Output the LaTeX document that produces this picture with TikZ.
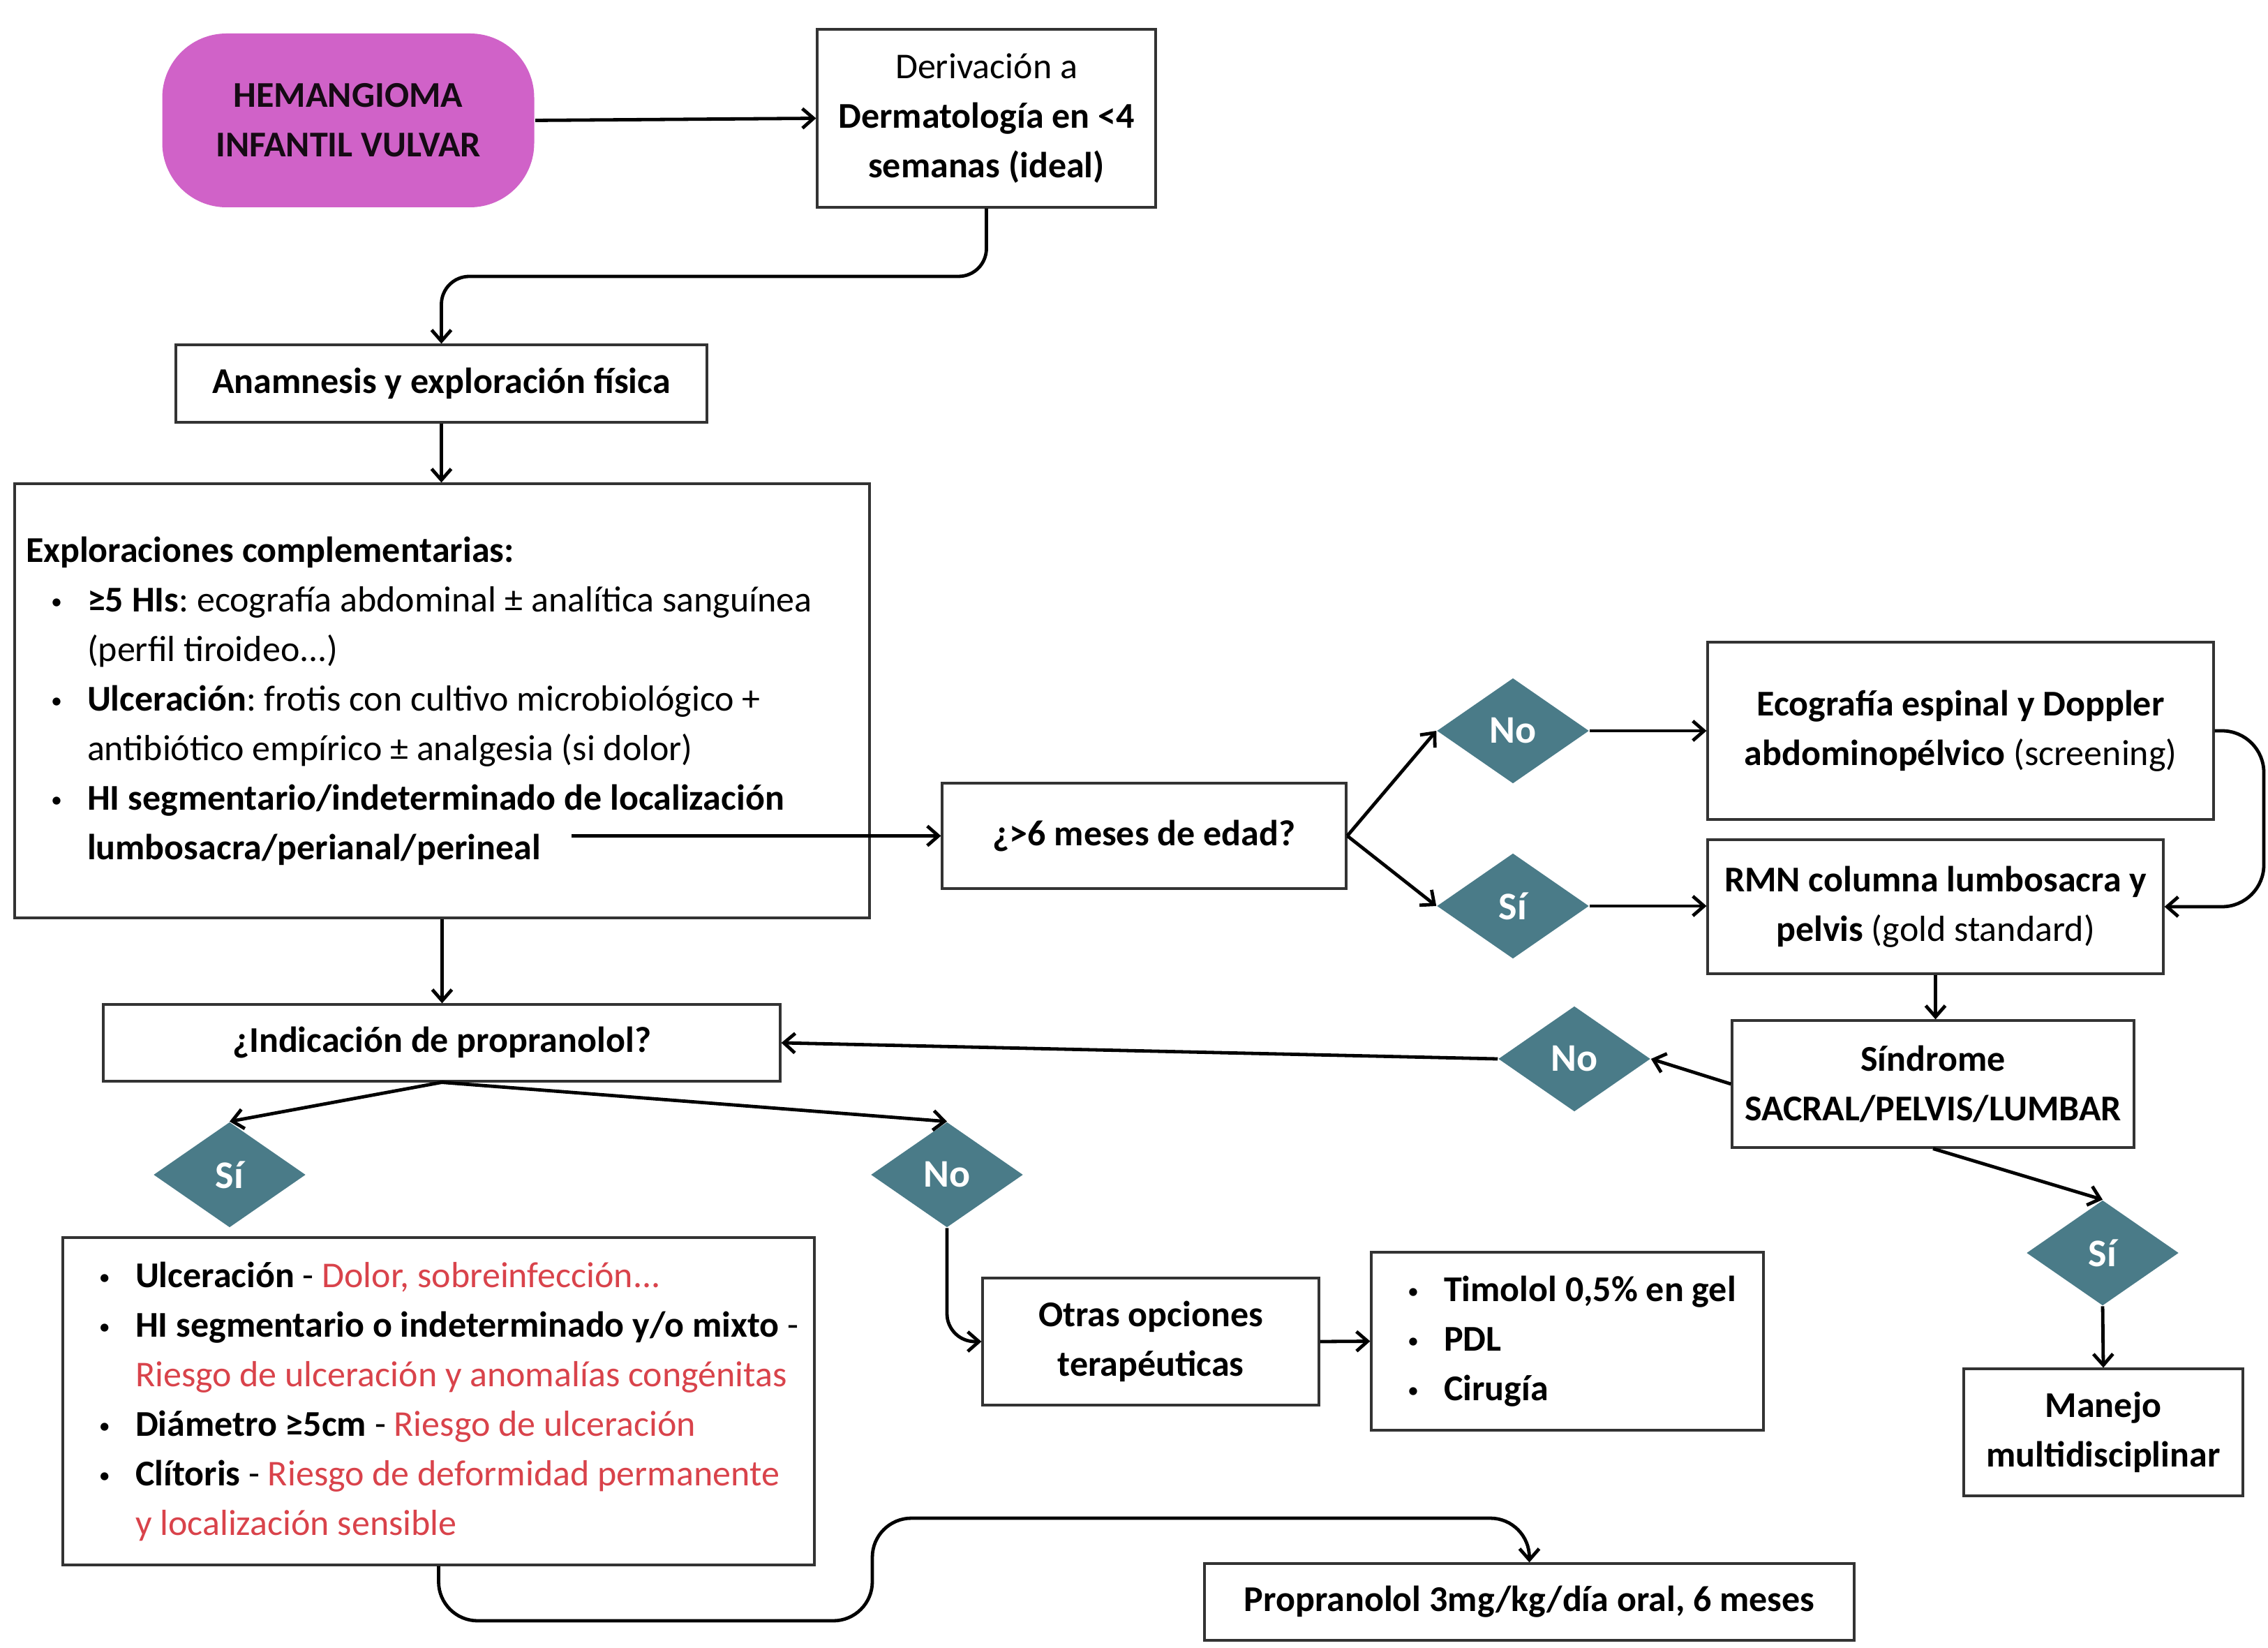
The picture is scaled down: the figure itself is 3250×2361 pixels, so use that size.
\documentclass[tikz,border=0pt]{standalone}
\usepackage{fontspec}
\setmainfont{Carlito}
\usetikzlibrary{arrows.meta,shapes.geometric}
\definecolor{teal1}{HTML}{4A7B88}
\definecolor{mag1}{HTML}{D062C8}
\definecolor{red1}{HTML}{D9434B}
\frenchspacing
\newcommand{\smb}{\raisebox{0.9pt}{\fontsize{8pt}{8pt}\selectfont\mdseries •}}
\newcommand{\bul}{\hspace*{9pt}\makebox[13pt][l]{\smb}}
\newcommand{\cnt}{\hspace*{22pt}}
\newcommand{\rt}[1]{\textcolor{red1}{#1}}
\newcommand{\tline}[1]{\mbox{#1}}
\begin{document}
\begin{tikzpicture}[x=0.25pt,y=-0.25pt,
 box/.style={draw=black!80, line width=0.8pt, rectangle, inner sep=0pt, align=center, font=\fontsize{13pt}{17.75pt}\selectfont\bfseries},
 lbox/.style={draw=black!80, line width=0.8pt, rectangle, inner xsep=4pt, inner ysep=0pt, align=flush left, font=\fontsize{13pt}{17.75pt}\selectfont},
 dia/.style={diamond, fill=teal1, inner sep=0pt, minimum width=54.5pt, minimum height=37.75pt, text=white, font=\fontsize{14pt}{16pt}\selectfont\bfseries},
 arr/.style={line width=1.2pt, -{Straight Barb[length=4pt,width=7pt]}},
 ]
\fill[white] (0,0) rectangle (3250,2361);
\useasboundingbox (0,0) rectangle (3250,2361);

% nodes
\node[box, draw=none, fill=mag1, rounded corners=23pt, text=black!90!mag1, minimum width=133.25pt, minimum height=62.25pt] (hem) at (499,172.5) {HEMANGIOMA\\INFANTIL VULVAR};
\node[box, minimum width=121.25pt, minimum height=63.75pt] (der) at (1413.5,169.5) {{\mdseries Derivación a}\\Dermatología en <4\\semanas (ideal)};
\node[box, minimum width=190.25pt, minimum height=27.75pt] (ana) at (632.5,549.5) {Anamnesis y exploración física};
\node[lbox, text width=298.25pt, minimum height=155.5pt] (exp) at (633.5,1004) {\tline{\textbf{Exploraciones complementarias:}}\\
\tline{\bul\textbf{≥5 HIs}: ecografía abdominal ± analítica sanguínea}\\
\tline{\cnt(perfil tiroideo...)}\\
\tline{\bul\textbf{Ulceración}: frotis con cultivo microbiológico +}\\
\tline{\cnt antibiótico empírico ± analgesia (si dolor)}\\
\tline{\bul\textbf{HI segmentario/indeterminado de localización}}\\
\tline{\cnt\textbf{lumbosacra/perianal/perineal}}};
\node[box, minimum width=144.75pt, minimum height=37.75pt] (mes) at (1639.5,1197.5) {¿>6 meses de edad?};
\node[dia] (dno1) at (2168,1047) {No};
\node[dia] (dsi1) at (2168,1298) {Sí};
\node[box, minimum width=181.25pt, minimum height=63.5pt] (eco) at (2809.5,1047) {Ecografía espinal y Doppler\\abdominopélvico {\mdseries (screening)}};
\node[box, minimum width=163.25pt, minimum height=48pt] (rmn) at (2773.5,1299) {RMN columna lumbosacra y\\pelvis {\mdseries (gold standard)}};
\node[box, minimum width=144pt, minimum height=45.5pt] (sin) at (2770,1553) {Síndrome\\SACRAL/PELVIS/LUMBAR};
\node[dia] (dno2) at (2256,1517) {No};
\node[box, minimum width=242.5pt, minimum height=27.5pt] (ind) at (633,1494) {¿Indicación de propranolol?};
\node[dia] (dsi2) at (329,1683) {Sí};
\node[dia] (dno3) at (1357,1683) {No};
\node[lbox, text width=261.25pt, minimum height=117.25pt] (sil) at (628.5,2007.5) {\tline{\bul\textbf{Ulceración} - \rt{Dolor, sobreinfección...}}\\
\tline{\bul\textbf{HI segmentario o indeterminado y/o mixto} -}\\
\tline{\cnt\rt{Riesgo de ulceración y anomalías congénitas}}\\
\tline{\bul\textbf{Diámetro ≥5cm} - \rt{Riesgo de ulceración}}\\
\tline{\bul\textbf{Clítoris} - \rt{Riesgo de deformidad permanente}}\\
\tline{\cnt\rt{y localización sensible}}};
\node[box, minimum width=120.5pt, minimum height=45.5pt] (otr) at (1649,1922) {Otras opciones\\terapéuticas};
\node[lbox, font=\fontsize{13pt}{17.75pt}\selectfont\bfseries, text width=132.5pt, minimum height=63.75pt] (tim) at (2246,1921.5) {\tline{\bul Timolol 0,5\% en gel}\\\tline{\bul PDL}\\\tline{\bul Cirugía}};
\node[dia] (dsi3) at (3013,1795) {Sí};
\node[box, minimum width=100pt, minimum height=45.5pt] (man) at (3014,2052) {Manejo\\multidisciplinar};
\node[box, minimum width=232.75pt, minimum height=27.5pt] (pro) at (2191.5,2295) {Propranolol 3mg/kg/día oral, 6 meses};

% connectors
\draw[arr] (hem.east) -- (der.west);
\draw[arr, rounded corners=10pt] (der.south) -- (der.south |- 0,396) -- (ana.north |- 0,396) -- (ana.north);
\draw[arr] (ana.south) -- (ana.south |- exp.north);
\coordinate (hiend) at (819,1197.5);
\draw[arr] (hiend) -- (mes.west);
\draw[arr] (mes.east) -- (dno1.west);
\draw[arr] (mes.east) -- (dsi1.west);
\draw[arr] (dno1.east) -- (eco.west);
\draw[arr] (dsi1.east) -- (dsi1.east -| rmn.west);
\coordinate (loopx) at (3244,0);
\draw[arr, rounded corners=15pt] (eco.east) -- (eco.east -| loopx) -- (rmn.east -| loopx) -- (rmn.east);
\draw[arr] (rmn.south) -- (rmn.south |- sin.north);
\draw[arr] (sin.west) -- (dno2.east);
\draw[arr] (dno2.west) -- (ind.east);
\draw[arr] (exp.south) -- (exp.south |- ind.north);
\draw[arr] (ind.south) -- (dsi2.north);
\draw[arr] (ind.south) -- (dno3.north);
\draw[arr, rounded corners=10pt] (dno3.south) |- (otr.west);
\draw[arr] (otr.east) -- (tim.west);
\draw[arr] (sin.south) -- (dsi3.north);
\draw[arr] (dsi3.south) -- (man.north);
\draw[arr, rounded corners=14pt] (sil.south) -- (sil.south |- 0,2322) -- (1250,2322) -- (1250,2175) -- (pro.north |- 0,2175) -- (pro.north);
\end{tikzpicture}
\end{document}
